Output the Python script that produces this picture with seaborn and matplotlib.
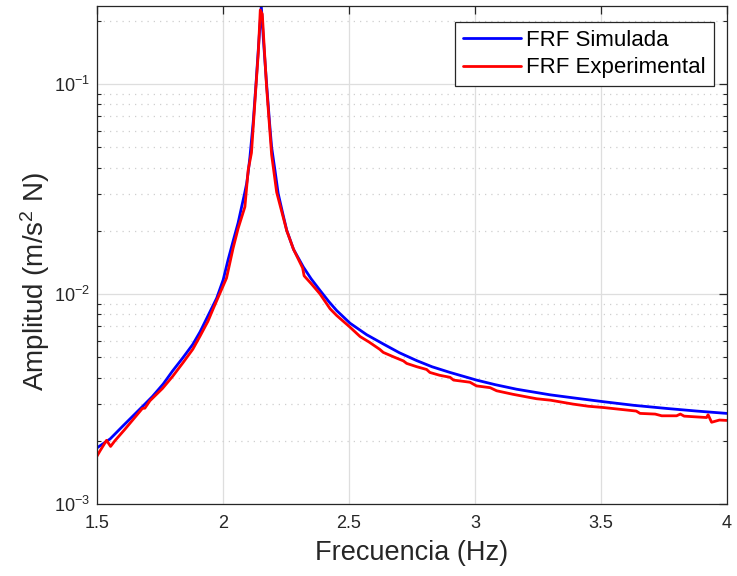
import matplotlib
matplotlib.use("Agg")
import matplotlib.pyplot as plt
import seaborn as sns
import pandas as pd
from matplotlib.ticker import LogLocator, LogFormatterSciNotation, NullFormatter, FixedLocator

# ---- data ----
freq_sim = [1.500, 1.552, 1.604, 1.684, 1.720, 1.763, 1.800, 1.842, 1.880, 1.909,
            1.940, 1.975, 2.001, 2.020, 2.041, 2.060, 2.074, 2.085, 2.094, 2.100,
            2.107, 2.120, 2.131, 2.140, 2.152, 2.160, 2.173, 2.185, 2.193, 2.206,
            2.219, 2.236, 2.253, 2.280, 2.319, 2.350, 2.385, 2.420, 2.451, 2.504,
            2.570, 2.636, 2.700, 2.768, 2.830, 2.901, 3.006, 3.080, 3.165, 3.298,
            3.400, 3.509, 3.630, 3.761, 3.880, 3.999]
amp_sim = [1.85e-3, 2.04e-3, 2.36e-3, 2.94e-3, 3.25e-3, 3.73e-3, 4.30e-3, 4.99e-3, 5.75e-3, 6.60e-3,
           7.85e-3, 9.55e-3, 0.0117, 0.0145, 0.0180, 0.0218, 0.0260, 0.0298, 0.0336, 0.0380,
           0.0450, 0.0660, 0.1000, 0.1450, 0.2350, 0.1650, 0.1000, 0.0650, 0.0500, 0.0390,
           0.0301, 0.0245, 0.0201, 0.0163, 0.01343, 0.0118, 0.0104, 0.0092, 0.00834, 0.00726,
           0.00640, 0.00578, 0.00525, 0.00482, 0.00450, 0.00423, 0.00389, 0.00370, 0.00352, 0.00331,
           0.00319, 0.00307, 0.00295, 0.00285, 0.00277, 0.00270]

freq_exp = [1.500, 1.512, 1.538, 1.554, 1.571, 1.611, 1.680, 1.690, 1.710, 1.760,
            1.800, 1.842, 1.880, 1.909, 1.940, 1.962, 2.014, 2.040, 2.060, 2.087,
            2.100, 2.113, 2.131, 2.140, 2.148, 2.156, 2.165, 2.173, 2.185, 2.193,
            2.213, 2.253, 2.280, 2.316, 2.322, 2.350, 2.385, 2.425, 2.451, 2.504,
            2.530, 2.544, 2.580, 2.622, 2.636, 2.680, 2.716, 2.729, 2.770, 2.808,
            2.821, 2.860, 2.901, 2.915, 2.980, 3.006, 3.060, 3.086, 3.150, 3.220,
            3.245, 3.300, 3.389, 3.450, 3.509, 3.580, 3.640, 3.655, 3.715, 3.741,
            3.800, 3.815, 3.830, 3.919, 3.925, 3.939, 3.970, 3.999]
amp_exp = [1.69e-3, 1.79e-3, 2.01e-3, 1.88e-3, 2.00e-3, 2.27e-3, 2.85e-3, 2.86e-3, 3.10e-3, 3.55e-3,
           4.05e-3, 4.72e-3, 5.45e-3, 6.30e-3, 7.40e-3, 8.55e-3, 0.0119, 0.0165, 0.0205, 0.0260,
           0.0389, 0.0470, 0.0980, 0.1400, 0.2250, 0.2150, 0.1400, 0.0970, 0.0620, 0.0460,
           0.0305, 0.0200, 0.0163, 0.0133, 0.0122, 0.0112, 0.0100, 0.0085, 0.0079, 0.00695,
           0.00650, 0.00627, 0.00590, 0.00545, 0.00527, 0.00500, 0.00480, 0.00467, 0.00450, 0.00437,
           0.00423, 0.00410, 0.00401, 0.00389, 0.00380, 0.00365, 0.00358, 0.00346, 0.00333, 0.00321,
           0.00317, 0.00312, 0.00299, 0.00292, 0.00288, 0.00282, 0.00277, 0.00270, 0.00268, 0.00263,
           0.00263, 0.00268, 0.00262, 0.00258, 0.00266, 0.00245, 0.00251, 0.00250]

x_ticks = [1.5, 2, 2.5, 3, 3.5, 4]
x_tick_labels = ["1.5", "2", "2.5", "3", "3.5", "4"]
label_sim = "FRF Simulada"
label_exp = "FRF Experimental"

# ---- style ----
sns.set_theme(style="white")
plt.rcParams["font.family"] = ["Liberation Sans", "DejaVu Sans"]
plt.rcParams["mathtext.fontset"] = "custom"
plt.rcParams["mathtext.rm"] = "Liberation Sans"
plt.rcParams["mathtext.it"] = "Liberation Sans"
plt.rcParams["mathtext.bf"] = "Liberation Sans"
plt.rcParams["mathtext.default"] = "regular"

txt = "#262626"
fig = plt.figure(figsize=(7.37, 5.76), dpi=100)
ax = fig.add_axes([0.1316, 0.125, 0.8548, 0.8646])

df_sim = pd.DataFrame({"f": freq_sim, "a": amp_sim})
df_exp = pd.DataFrame({"f": freq_exp, "a": amp_exp})
sns.lineplot(data=df_sim, x="f", y="a", ax=ax, color=(0, 0, 1), lw=2.0, label=label_sim)
sns.lineplot(data=df_exp, x="f", y="a", ax=ax, color=(1, 0, 0), lw=2.0, label=label_exp)

ax.set_yscale("log")
ax.set_xlim(1.5, 4)
ax.set_ylim(1e-3, 0.235)
ax.xaxis.set_major_locator(FixedLocator(x_ticks))
ax.set_xticklabels(x_tick_labels)
ax.yaxis.set_major_locator(LogLocator(base=10, numticks=10))
ax.yaxis.set_major_formatter(LogFormatterSciNotation())
ax.yaxis.set_minor_locator(LogLocator(base=10, subs=range(2, 10), numticks=20))
ax.yaxis.set_minor_formatter(NullFormatter())

ax.grid(True, which="major", axis="both", color="#dedede", lw=0.9, ls="-")
ax.grid(True, which="minor", axis="y", color="#cfcfcf", lw=0.9, ls=(0, (1, 4)))
ax.set_axisbelow(True)

for s in ax.spines.values():
    s.set_color(txt)
    s.set_linewidth(0.9)
ax.tick_params(which="major", direction="in", length=6, width=0.9, color=txt,
               top=True, right=True, labelsize=13, labelcolor=txt, pad=8)
ax.tick_params(which="minor", direction="in", length=3, width=0.8, color=txt,
               left=True, right=True)
ax.tick_params(axis="y", which="major", pad=5)

ax.set_xlabel("Frecuencia (Hz)", fontsize=19.5, color=txt, labelpad=6)
ax.set_ylabel("Amplitud (m/s$^2$ N)", fontsize=20, color=txt)
ax.yaxis.set_label_coords(-0.071, 0.446)

leg = ax.legend(loc="upper right", bbox_to_anchor=(0.979, 0.968), fontsize=16,
                frameon=True, fancybox=False, framealpha=1, edgecolor=txt,
                borderpad=0.35, handlelength=2.6, handletextpad=0.25, labelspacing=0.3,
                borderaxespad=0)
leg.get_frame().set_linewidth(0.9)
for t in leg.get_texts():
    t.set_color("black")

fig.savefig("out.png", dpi=100)
